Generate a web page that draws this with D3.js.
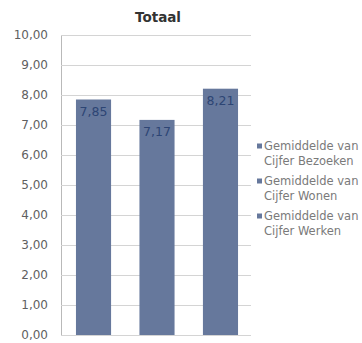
<!DOCTYPE html>
<html>
<head>
<meta charset="utf-8">
<script src="https://cdn.jsdelivr.net/npm/d3@7"></script>
<style>
  html, body { margin: 0; padding: 0; background: #fff; overflow: hidden; }
  svg { display: block; }
</style>
</head>
<body>
<div id="chart"></div>
<script>
// Average scores per theme
const categories = ["Cijfer Bezoeken", "Cijfer Wonen", "Cijfer Werken"];
const legendPrefix = "Gemiddelde van";
const values = [7.85, 7.17, 8.21];
const yTicks = [0, 1, 2, 3, 4, 5, 6, 7, 8, 9, 10];
const title = "Totaal";

const W = 362, H = 343;
const plot = { left: 62, right: 252, top: 35, bottom: 335 };
const barColor = "#66789c";
const font = "'DejaVu Sans', Verdana, sans-serif";

const nl = d3.formatLocale({ decimal: ",", thousands: ".", grouping: [3], currency: ["€", ""] });
const fmt = nl.format(".2f");

const svg = d3.select("#chart").append("svg")
  .attr("width", W).attr("height", H);

const x = d3.scaleBand()
  .domain(categories)
  .range([plot.left, plot.right])
  .paddingInner(0.447)
  .paddingOuter(0.22);

const y = d3.scaleLinear()
  .domain([0, 10])
  .range([plot.bottom, plot.top]);

// Horizontal gridlines and value axis
const yAxis = d3.axisLeft(y)
  .tickValues(yTicks)
  .tickFormat(fmt)
  .tickSize(-(plot.right - plot.left))
  .tickPadding(13);

const gy = svg.append("g")
  .attr("transform", `translate(${plot.left - 1},0)`)
  .call(yAxis);
gy.select(".domain").attr("stroke", "#b9b9b9").attr("stroke-width", 1);
gy.selectAll(".tick line").attr("stroke", "#d4d4d4").attr("stroke-width", 1);
gy.selectAll(".tick text")
  .attr("fill", "#5f5f5f")
  .style("font-family", font)
  .style("font-size", "12px");

// Bars
svg.append("g").selectAll("rect")
  .data(values)
  .join("rect")
  .attr("x", (d, i) => x(categories[i]))
  .attr("width", x.bandwidth())
  .attr("y", d => y(d))
  .attr("height", d => y(0) - y(d))
  .attr("fill", barColor);

// Value labels inside the bar tops
svg.append("g").selectAll("text")
  .data(values)
  .join("text")
  .attr("x", (d, i) => x(categories[i]) + x.bandwidth() / 2)
  .attr("y", d => y(d) + 12)
  .attr("dy", "0.35em")
  .attr("text-anchor", "middle")
  .attr("fill", "#2d4574")
  .style("font-family", font)
  .style("font-size", "12.5px")
  .text(d => fmt(d));

// Title
svg.append("text")
  .attr("x", 158)
  .attr("y", 17)
  .attr("dy", "0.35em")
  .attr("text-anchor", "middle")
  .attr("fill", "#333")
  .style("font-family", font)
  .style("font-weight", "bold")
  .style("font-size", "13.5px")
  .text(title);

// Legend
const legend = svg.append("g").attr("transform", "translate(257,146)");
const item = legend.selectAll("g")
  .data(categories)
  .join("g")
  .attr("transform", (d, i) => `translate(0,${i * 35})`);
item.append("rect")
  .attr("x", 0).attr("y", -2.5)
  .attr("width", 5).attr("height", 5)
  .attr("fill", barColor);
const lt = item.append("text")
  .attr("fill", "#7a7a7a")
  .style("font-family", font)
  .style("font-size", "11.5px");
lt.append("tspan").attr("x", 7).attr("dy", "0.35em").text(legendPrefix);
lt.append("tspan").attr("x", 7).attr("dy", 15).text(d => d);
</script>
</body>
</html>
